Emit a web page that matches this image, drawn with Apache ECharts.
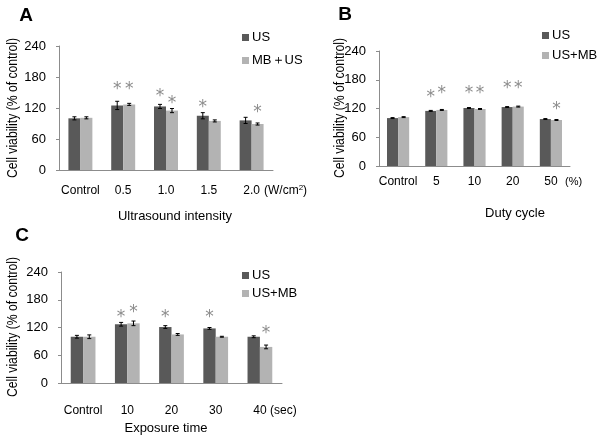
<!DOCTYPE html>
<html>
<head>
<meta charset="utf-8">
<script src="https://cdn.jsdelivr.net/npm/echarts@6/dist/echarts.min.js"></script>
<style>
  html, body { margin: 0; padding: 0; background: #fff; }
  #main { width: 600px; height: 438px; }
</style>
</head>
<body>
<div id="main"></div>
<script>
// panel A - ultrasound intensity
var catsA = ['Control', '0.5', '1.0', '1.5', '2.0'];
var usA = [100, 125, 123, 105, 96];
var usErrA = [3, 8, 4, 6, 6];
var mbA = [101, 127, 115, 95, 89];
var mbErrA = [2, 2, 4, 2, 2];
var starUsA = [null, 161, 147, 126, null];
var starMbA = [null, 161, 135, null, 116];

// panel B - duty cycle
var catsB = ['Control', '5', '10', '20', '50'];
var usB = [100, 115, 121, 123, 98];
var usErrB = [1, 1, 1, 1, 1];
var mbB = [102, 117, 119, 124, 96];
var mbErrB = [1, 1, 1, 1, 1];
var starUsB = [null, 150, 157, 167, null];
var starMbB = [null, 157, 157, 167, 125];

// panel C - exposure time
var catsC = ['Control', '10', '20', '30', '40'];
var usC = [100, 127, 121, 118, 100];
var usErrC = [3, 4, 3, 2, 2];
var mbC = [100, 129, 105, 100, 78];
var mbErrC = [4, 5, 2, 1, 4];
var starUsC = [null, 148, 148, 148, null];
var starMbC = [null, 159, null, null, 114];

var yTicks = [0, 60, 120, 180, 240];

var DARK = '#595959';
var LIGHT = '#b3b3b3';
var FONT = 'Liberation Sans';

var chart = echarts.init(document.getElementById('main'));

function errData(vals, errs, stars) {
  return vals.map(function(v, i) {
    return [i, v, errs[i], stars[i] == null ? NaN : stars[i]];
  });
}

// error bars + asterisks drawn on top of the bars
function errSeries(name, idx, vals, errs, stars, side, gap) {
  return {
    type: 'custom',
    name: name,
    xAxisIndex: idx,
    yAxisIndex: idx,
    silent: true,
    z: 5,
    data: errData(vals, errs, stars),
    encode: { x: 0, y: 1 },
    renderItem: function(params, api) {
      var i = api.value(0), v = api.value(1), e = api.value(2), s = api.value(3);
      var c = api.coord([i, v]);
      var bw = api.size([1, 0])[0] * (1 - gap) / 2;
      var x = c[0] + side * bw / 2;
      var yt = api.coord([i, v + e])[1];
      var yb = api.coord([i, v - e])[1];
      var st = { stroke: '#000', lineWidth: 1 };
      var kids = [
        { type: 'line', shape: { x1: x, y1: yt, x2: x, y2: yb }, style: st },
        { type: 'line', shape: { x1: x - 2, y1: yt, x2: x + 2, y2: yt }, style: st },
        { type: 'line', shape: { x1: x - 2, y1: yb, x2: x + 2, y2: yb }, style: st }
      ];
      if (!isNaN(s)) {
        var ys = api.coord([i, s])[1];
        kids.push({
          type: 'text', x: x, y: ys + 3,
          style: { text: '*', fill: '#8c8c8c', font: '17px "DejaVu Sans"', align: 'center', verticalAlign: 'middle' }
        });
      }
      return { type: 'group', children: kids };
    }
  };
}

function barSeries(name, idx, vals, color, gap) {
  return {
    type: 'bar',
    name: name,
    xAxisIndex: idx,
    yAxisIndex: idx,
    data: vals,
    barGap: 0,
    barCategoryGap: (gap * 100) + '%',
    itemStyle: { color: color },
    animation: false
  };
}

function xAx(idx, cats, margin) {
  return {
    type: 'category',
    gridIndex: idx,
    data: cats,
    axisLine: { lineStyle: { color: '#8c8c8c', width: 1 } },
    axisTick: { show: false },
    axisLabel: { interval: 0, color: '#000', fontSize: 12, fontFamily: FONT, margin: margin }
  };
}

function yAx(idx) {
  return {
    type: 'value',
    gridIndex: idx,
    min: 0, max: 240, interval: 60,
    axisLine: { show: true, lineStyle: { color: '#8c8c8c', width: 1 } },
    axisTick: { show: true, length: 3, lineStyle: { color: '#8c8c8c' } },
    splitLine: { show: false },
    axisLabel: {
      color: '#000', fontSize: 13, fontFamily: FONT, margin: 13,
      formatter: function(v) { return yTicks.indexOf(v) >= 0 ? String(v) : ''; }
    }
  };
}

function legend(names, left, top, gap) {
  return {
    data: names,
    orient: 'vertical',
    left: left, top: top,
    itemWidth: 7, itemHeight: 7, itemGap: gap,
    icon: 'rect',
    textStyle: { color: '#000', fontSize: 13, fontFamily: FONT, padding: [0, 0, 0, -2] },
    selectedMode: false
  };
}

function txt(text, x, y, size, opts) {
  var o = {
    type: 'text', x: x, y: y,
    style: {
      text: text, fill: '#000', font: (opts && opts.bold ? 'bold ' : '') + size + 'px "' + FONT + '"',
      align: (opts && opts.align) || 'center', verticalAlign: 'middle'
    }
  };
  if (opts && opts.rotate) o.rotation = opts.rotate;
  if (opts && opts.sx) o.scaleX = opts.sx;
  if (opts && opts.rich) o.style.rich = opts.rich;
  return o;
}

var gapA = 0.44, gapB = 0.42, gapC = 0.44;
var ROT = Math.PI / 2;

var option = {
  animation: false,
  backgroundColor: '#fff',
  grid: [
    { left: 59, right: 327, top: 46, bottom: 268 },
    { left: 379, right: 30, top: 51, bottom: 272 },
    { left: 61, right: 318, top: 272, bottom: 55 }
  ],
  xAxis: [xAx(0, catsA, 15), xAx(1, catsB, 10), xAx(2, catsC, 22)],
  yAxis: [yAx(0), yAx(1), yAx(2)],
  legend: [
    legend(['US', 'MB＋US'], 237, 26, 10),
    legend(['US', 'US+MB'], 537, 24, 7),
    legend(['US', 'US+MB'], 237, 264, 5)
  ],
  series: [
    barSeries('US', 0, usA, DARK, gapA),
    barSeries('MB＋US', 0, mbA, LIGHT, gapA),
    errSeries('errUsA', 0, usA, usErrA, starUsA, -1, gapA),
    errSeries('errMbA', 0, mbA, mbErrA, starMbA, 1, gapA),
    barSeries('US', 1, usB, DARK, gapB),
    barSeries('US+MB', 1, mbB, LIGHT, gapB),
    errSeries('errUsB', 1, usB, usErrB, starUsB, -1, gapB),
    errSeries('errMbB', 1, mbB, mbErrB, starMbB, 1, gapB),
    barSeries('US', 2, usC, DARK, gapC),
    barSeries('US+MB', 2, mbC, LIGHT, gapC),
    errSeries('errUsC', 2, usC, usErrC, starUsC, -1, gapC),
    errSeries('errMbC', 2, mbC, mbErrC, starMbC, 1, gapC)
  ],
  graphic: [
    txt('A', 26, 16, 19, { bold: true }),
    txt('B', 345, 15, 19, { bold: true }),
    txt('C', 22, 236, 19, { bold: true }),
    txt('Cell viability (% of control)', 13, 108, 14, { rotate: ROT, sx: 0.87 }),
    txt('Cell viability (% of control)', 340, 108, 14, { rotate: ROT, sx: 0.87 }),
    txt('Cell viability (% of control)', 13, 327, 14, { rotate: ROT, sx: 0.87 }),
    txt('Ultrasound intensity', 175, 216, 13),
    txt('Duty cycle', 515, 213, 13),
    txt('Exposure time', 166, 428, 13),
    txt('(W/cm{sup|2})', 264, 191, 12, { align: 'left', rich: { sup: { fontSize: 8, padding: [0, 0, 7, 0] } } }),
    txt('(%)', 565, 182, 11, { align: 'left' }),
    txt('(sec)', 270, 411, 12, { align: 'left' })
  ]
};

chart.setOption(option);
</script>
</body>
</html>
